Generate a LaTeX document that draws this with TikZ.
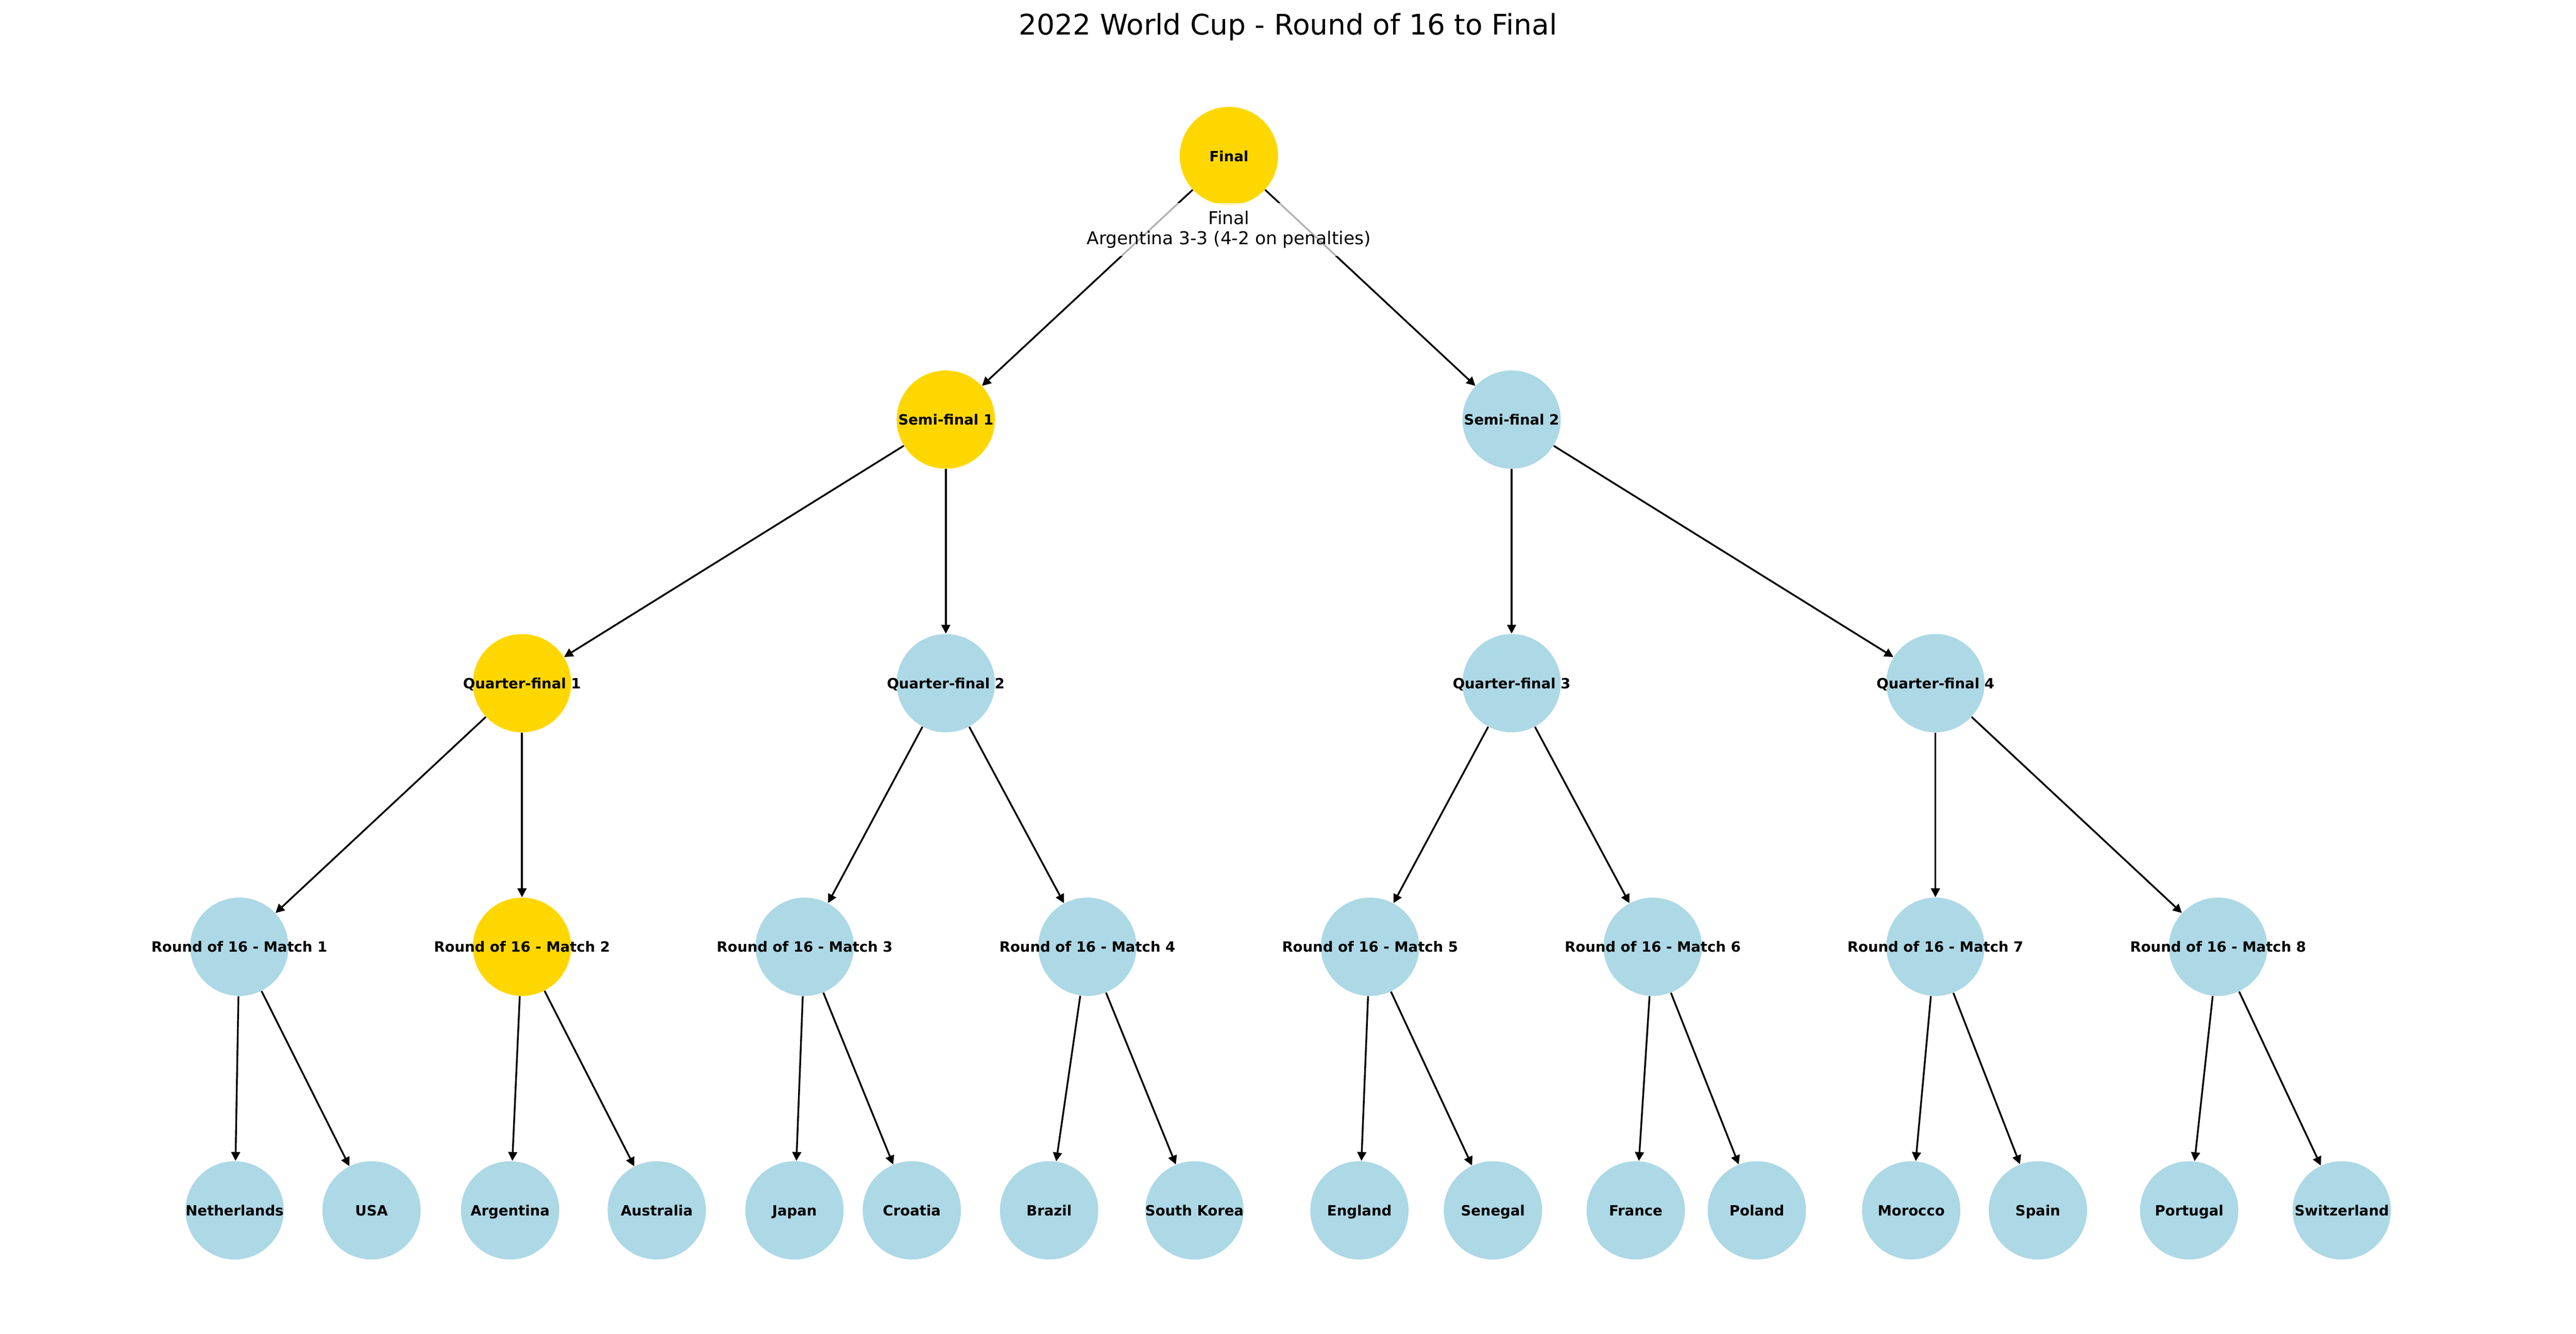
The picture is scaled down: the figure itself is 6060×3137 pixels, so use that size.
\documentclass[tikz,border=0pt]{standalone}
\usepackage{fontspec}
\setmainfont{DejaVu Sans}
\usetikzlibrary{arrows.meta}
\definecolor{gold}{HTML}{FFD700}
\definecolor{lblue}{HTML}{ADD8E6}
\newcommand{\tname}[1]{\makebox[0pt]{#1}}

\begin{document}
\begin{tikzpicture}[x=0.24pt,y=-0.24pt,
  match/.style={circle,fill=lblue,minimum size=55.5pt,inner sep=0pt,text height=7pt,text depth=1pt,font=\fontsize{8}{9.6}\selectfont\bfseries},
  won/.style={match,fill=gold},
  edge/.style={line width=1pt,-{Triangle[length=5pt,width=5pt]}}]
\useasboundingbox (0,0) rectangle (6060,3137);
\node[anchor=base,font=\fontsize{16}{19}\selectfont] (title) at (3030,82) {2022 World Cup - Round of 16 to Final};
\node[won] (fin) at (2891,367) {\tname{Final}};
\node[won] (sf1) at (2225,987) {\tname{Semi-final 1}};
\node[match] (sf2) at (3556,987) {\tname{Semi-final 2}};
\node[won] (qf1) at (1228,1607) {\tname{Quarter-final 1}};
\node[match] (qf2) at (2225,1607) {\tname{Quarter-final 2}};
\node[match] (qf3) at (3556,1607) {\tname{Quarter-final 3}};
\node[match] (qf4) at (4553,1607) {\tname{Quarter-final 4}};
\node[match] (r1) at (563,2227) {\tname{Round of 16 - Match 1}};
\node[won] (r2) at (1228,2227) {\tname{Round of 16 - Match 2}};
\node[match] (r3) at (1893,2227) {\tname{Round of 16 - Match 3}};
\node[match] (r4) at (2558,2227) {\tname{Round of 16 - Match 4}};
\node[match] (r5) at (3223,2227) {\tname{Round of 16 - Match 5}};
\node[match] (r6) at (3888,2227) {\tname{Round of 16 - Match 6}};
\node[match] (r7) at (4553,2227) {\tname{Round of 16 - Match 7}};
\node[match] (r8) at (5218,2227) {\tname{Round of 16 - Match 8}};
\node[match] (nl) at (552,2847) {\tname{Netherlands}};
\node[match] (usa) at (874,2847) {\tname{USA}};
\node[match] (arg) at (1200,2847) {\tname{Argentina}};
\node[match] (aus) at (1545,2847) {\tname{Australia}};
\node[match] (jpn) at (1869,2847) {\tname{Japan}};
\node[match] (cro) at (2145,2847) {\tname{Croatia}};
\node[match] (bra) at (2468,2847) {\tname{Brazil}};
\node[match] (kor) at (2810,2847) {\tname{South Korea}};
\node[match] (eng) at (3198,2847) {\tname{England}};
\node[match] (sen) at (3512,2847) {\tname{Senegal}};
\node[match] (fra) at (3848,2847) {\tname{France}};
\node[match] (pol) at (4133,2847) {\tname{Poland}};
\node[match] (mar) at (4496,2847) {\tname{Morocco}};
\node[match] (esp) at (4794,2847) {\tname{Spain}};
\node[match] (por) at (5150,2847) {\tname{Portugal}};
\node[match] (sui) at (5509,2847) {\tname{Switzerland}};
\draw[edge] (fin) -- (sf1);
\draw[edge] (fin) -- (sf2);
\draw[edge] (sf1) -- (qf1);
\draw[edge] (sf1) -- (qf2);
\draw[edge] (sf2) -- (qf3);
\draw[edge] (sf2) -- (qf4);
\draw[edge] (qf1) -- (r1);
\draw[edge] (qf1) -- (r2);
\draw[edge] (qf2) -- (r3);
\draw[edge] (qf2) -- (r4);
\draw[edge] (qf3) -- (r5);
\draw[edge] (qf3) -- (r6);
\draw[edge] (qf4) -- (r7);
\draw[edge] (qf4) -- (r8);
\draw[edge] (r1) -- (nl);
\draw[edge] (r1) -- (usa);
\draw[edge] (r2) -- (arg);
\draw[edge] (r2) -- (aus);
\draw[edge] (r3) -- (jpn);
\draw[edge] (r3) -- (cro);
\draw[edge] (r4) -- (bra);
\draw[edge] (r4) -- (kor);
\draw[edge] (r5) -- (eng);
\draw[edge] (r5) -- (sen);
\draw[edge] (r6) -- (fra);
\draw[edge] (r6) -- (pol);
\draw[edge] (r7) -- (mar);
\draw[edge] (r7) -- (esp);
\draw[edge] (r8) -- (por);
\draw[edge] (r8) -- (sui);
\node[fill=white,fill opacity=0.7,text opacity=1,align=center,inner xsep=5pt,minimum height=30pt,font=\fontsize{10}{11.3}\selectfont] (res) at (2891,540) {Final\\Argentina 3-3 (4-2 on penalties)};
\end{tikzpicture}
\end{document}
